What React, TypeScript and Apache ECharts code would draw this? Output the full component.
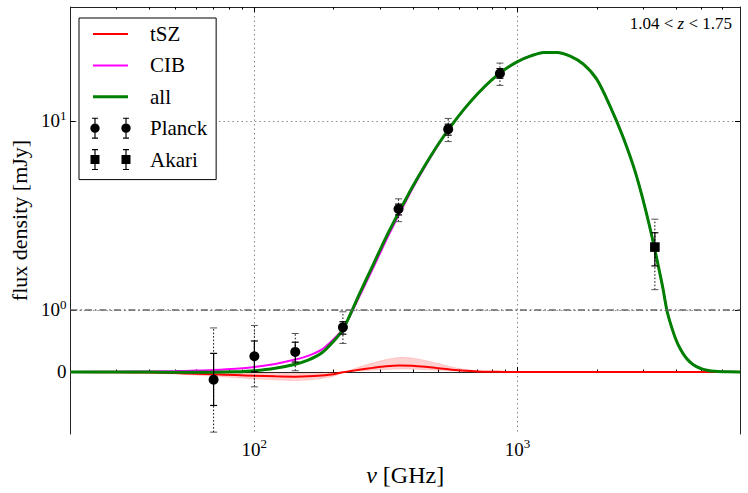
import React, { useEffect, useRef } from 'react';
import * as echarts from 'echarts';

// ---------- data (GHz, mJy) ----------
const FREQ = [20, 30, 40, 50, 60, 70, 85, 100, 120, 143, 160, 180, 200, 217, 233, 250,
  282, 316, 355, 398, 447, 501, 562, 631, 708, 794, 891,
  1000, 1122, 1259, 1413, 1585, 1778, 1995, 2239, 2512, 2818, 3162, 3548,
  3690, 3802, 3981, 4169, 4365, 4571, 4786, 5012, 5248, 5623, 6310, 7000];
const ALL = [-0.001, -0.001, -0.002, -0.004, -0.006, -0.006, 0.002, 0.02, 0.06, 0.125, 0.19, 0.305, 0.495, 0.685, 0.956, 1.205,
  1.72, 2.415, 3.31, 4.46, 5.88, 7.57, 9.5, 11.67, 13.99, 16.36, 18.62,
  20.58, 22.04, 23.0, 23.0, 22.0, 19.95, 16.67, 12.08, 8.26, 5.21, 2.83, 1.352,
  1.0, 0.796, 0.541, 0.357, 0.229, 0.143, 0.086, 0.05, 0.028, 0.011, 0.002, 0.0003];
const CIB = [0.001, 0.004, 0.008, 0.014, 0.022, 0.032, 0.052, 0.08, 0.13, 0.2, 0.26, 0.36, 0.53, 0.69, 0.94, 1.17,
  1.654, 2.323, 3.205, 4.36, 5.797, 7.51, 9.465, 11.652, 13.982, 16.357, 18.619,
  20.58, 22.04, 23.0, 23.0, 22.0, 19.95, 16.67, 12.08, 8.26, 5.21, 2.83, 1.352,
  1.0, 0.796, 0.541, 0.357, 0.229, 0.143, 0.086, 0.05, 0.028, 0.011, 0.002, 0.0003];
const TSZ = [-0.002, -0.005, -0.01, -0.018, -0.028, -0.038, -0.05, -0.06, -0.07, -0.075, -0.07, -0.055, -0.035, -0.005, 0.016, 0.035,
  0.066, 0.092, 0.105, 0.1, 0.083, 0.06, 0.035, 0.018, 0.008, 0.003, 0.001,
  0, 0, 0, 0, 0, 0, 0, 0, 0, 0, 0, 0,
  0, 0, 0, 0, 0, 0, 0, 0, 0, 0, 0, 0];
const TSZ_LO = [-0.004, -0.01, -0.02, -0.034, -0.052, -0.07, -0.092, -0.11, -0.128, -0.138, -0.13, -0.105, -0.068, -0.012, 0.006, 0.015,
  0.028, 0.04, 0.047, 0.045, 0.037, 0.027, 0.016, 0.008, 0.003, 0.001, 0,
  0, 0, 0, 0, 0, 0, 0, 0, 0, 0, 0, 0,
  0, 0, 0, 0, 0, 0, 0, 0, 0, 0, 0, 0];
const TSZ_HI = [-0.001, -0.002, -0.003, -0.005, -0.007, -0.01, -0.013, -0.016, -0.019, -0.02, -0.018, -0.014, -0.009, -0.001, 0.035, 0.08,
  0.147, 0.2, 0.235, 0.225, 0.185, 0.135, 0.08, 0.042, 0.018, 0.007, 0.002,
  0, 0, 0, 0, 0, 0, 0, 0, 0, 0, 0, 0,
  0, 0, 0, 0, 0, 0, 0, 0, 0, 0, 0, 0];

const PLANCK_FREQ = [70, 100, 143, 217, 353, 545, 857];
const PLANCK_VAL = [-0.124, 0.253, 0.323, 0.72, 3.42, 9.04, 17.8];
const PLANCK_IN_LO = [-0.54, 0.005, 0.16, 0.61, 3.18, 8.4, 16.8];
const PLANCK_IN_HI = [0.3, 0.5, 0.48, 0.81, 3.63, 9.6, 18.9];
const PLANCK_OUT_LO = [-0.97, -0.24, 0.02, 0.46, 2.93, 7.77, 15.4];
const PLANCK_OUT_HI = [0.71, 0.75, 0.62, 0.97, 3.87, 10.3, 20.2];

const AKARI_FREQ = [3324];
const AKARI_VAL = [2.15];
const AKARI_IN_LO = [1.71];
const AKARI_IN_HI = [2.56];
const AKARI_OUT_LO = [1.28];
const AKARI_OUT_HI = [3.02];

const X_MAJOR = [100, 1000];
const X_MINOR = [30, 40, 50, 60, 70, 80, 90, 200, 300, 400, 500, 600, 700, 800, 900, 2000, 3000, 4000, 5000, 6000];
const Y_TICKS = [0, 1, 10];
const X_RANGE = [20, 7000];
const Y_RANGE = [-1, 40];

// ---------- scales ----------
const LINSCALE = 0.328;
const fx = (f: number) => Math.log10(f);
const fy = (v: number) => {
  if (Math.abs(v) <= 1) return v * LINSCALE;
  return Math.sign(v) * (LINSCALE + Math.log10(Math.abs(v)));
};

const SERIF = "Liberation Serif, Times New Roman, DejaVu Serif, serif";

const richTick = {
  b: { fontSize: 19, fontFamily: SERIF, color: '#000' },
  s: { fontSize: 13, fontFamily: SERIF, color: '#000', padding: [0, 0, 11, 0] },
};

const near = (a: number, b: number) => Math.abs(a - b) < 1e-6;

function yLabel(v: number) {
  for (const t of Y_TICKS) {
    if (near(fy(t), v)) {
      if (t === 0) return '{b|0}';
      return `{b|10}{s|${Math.round(Math.log10(t))}}`;
    }
  }
  return '';
}

// ---------- legend icons ----------
const BB = 'M0 0 L0.01 0 L0 0.01 Z M54.99 22 L55 22 L55 21.99 Z ';
const rect = (x1: number, y1: number, x2: number, y2: number) => `M${x1} ${y1} L${x2} ${y1} L${x2} ${y2} L${x1} ${y2} Z `;
const lineIcon = (th: number) => 'path://' + BB + rect(3, 11 - th / 2, 38, 11 + th / 2);
const errIcon = (shape: 'circle' | 'square') => {
  let d = BB;
  for (const cx of [5, 36]) {
    d += rect(cx - 0.6, 0.5, cx + 0.6, 6.5);
    d += rect(cx - 0.6, 15.5, cx + 0.6, 21.5);
    d += rect(cx - 3, 0.5, cx + 3, 1.6);
    d += rect(cx - 3, 20.4, cx + 3, 21.5);
    if (shape === 'circle') {
      d += `M${cx - 4.7} 11 A4.7 4.7 0 1 1 ${cx + 4.7} 11 A4.7 4.7 0 1 1 ${cx - 4.7} 11 Z `;
    } else {
      d += rect(cx - 4.5, 6.5, cx + 4.5, 15.5);
    }
  }
  return 'path://' + d;
};

// ---------- series data ----------
const line = (vals: number[]) => FREQ.map((f, i) => [fx(f), fy(vals[i])]);
const bandData = FREQ.map((f, i) => [fx(f), fy(TSZ_LO[i]), fy(TSZ_HI[i])]);
const errData = (fr: number[], v: number[], il: number[], ih: number[], ol: number[], oh: number[]) =>
  fr.map((f, i) => [fx(f), fy(v[i]), fy(il[i]), fy(ih[i]), fy(ol[i]), fy(oh[i])]);

function makeErrRender(shape: 'circle' | 'square') {
  return (params: any, api: any) => {
    const x = api.value(0);
    const c = api.coord([x, api.value(1)]);
    const il = api.coord([x, api.value(2)]);
    const ih = api.coord([x, api.value(3)]);
    const ol = api.coord([x, api.value(4)]);
    const oh = api.coord([x, api.value(5)]);
    const cx = c[0];
    const cap = 3.5;
    const children: any[] = [
      { type: 'line', shape: { x1: cx, y1: ol[1], x2: cx, y2: oh[1] }, style: { stroke: '#000', lineWidth: 1, lineDash: [1.5, 2] } },
      { type: 'line', shape: { x1: cx - cap, y1: ol[1], x2: cx + cap, y2: ol[1] }, style: { stroke: '#555', lineWidth: 1 } },
      { type: 'line', shape: { x1: cx - cap, y1: oh[1], x2: cx + cap, y2: oh[1] }, style: { stroke: '#555', lineWidth: 1 } },
      { type: 'line', shape: { x1: cx, y1: il[1], x2: cx, y2: ih[1] }, style: { stroke: '#000', lineWidth: 1.2 } },
      { type: 'line', shape: { x1: cx - cap, y1: il[1], x2: cx + cap, y2: il[1] }, style: { stroke: '#000', lineWidth: 1.2 } },
      { type: 'line', shape: { x1: cx - cap, y1: ih[1], x2: cx + cap, y2: ih[1] }, style: { stroke: '#000', lineWidth: 1.2 } },
    ];
    if (shape === 'circle') {
      children.push({ type: 'circle', shape: { cx, cy: c[1], r: 5 }, style: { fill: '#000' } });
    } else {
      children.push({ type: 'rect', shape: { x: cx - 4.8, y: c[1] - 4.8, width: 9.6, height: 9.6 }, style: { fill: '#000' } });
    }
    return { type: 'group', children };
  };
}

function bandRender(params: any, api: any) {
  if (params.dataIndex !== 0) return null;
  const top = bandData.map((d) => api.coord([d[0], d[2]]));
  const bot = bandData.map((d) => api.coord([d[0], d[1]])).reverse();
  return { type: 'polygon', shape: { points: top.concat(bot), smooth: 0.2 }, style: { fill: 'rgba(255,0,0,0.18)', stroke: 'rgba(255,0,0,0.12)', lineWidth: 1 } };
}

const XMIN = fx(X_RANGE[0]);
const XMAX = fx(X_RANGE[1]);
const YMIN = fy(Y_RANGE[0]);
const YMAX = fy(Y_RANGE[1]);

const spine = { show: true, lineStyle: { color: '#222', width: 1 } };

const option: any = {
  animation: false,
  backgroundColor: '#fff',
  textStyle: { fontFamily: SERIF, color: '#000' },
  grid: { left: 69, top: 7, right: 8, bottom: 59, containLabel: false },
  xAxis: [
    {
      type: 'value', position: 'bottom', min: XMIN, max: XMAX,
      axisLine: spine,
      axisTick: { show: true, inside: true, length: 5, customValues: X_MAJOR.map(fx), lineStyle: { color: '#000' } },
      axisLabel: {
        show: true, customValues: X_MAJOR.map(fx), margin: 3,
        formatter: (v: number) => `{b|10}{s|${Math.round(v)}}`, rich: richTick,
      },
      splitLine: { show: true, lineStyle: { color: '#888', width: 1, type: [1.5, 3] } },
      name: '{i|ν} {n|[GHz]}', nameLocation: 'middle', nameGap: 20,
      nameTextStyle: {
        fontFamily: SERIF, fontSize: 24, color: '#000',
        rich: {
          i: { fontFamily: SERIF, fontSize: 24, fontStyle: 'italic', color: '#000' },
          n: { fontFamily: SERIF, fontSize: 24, color: '#000' },
        },
      },
    },
    {
      type: 'value', position: 'bottom', min: XMIN, max: XMAX,
      axisLine: { show: false },
      axisTick: { show: true, inside: true, length: 2.5, customValues: X_MINOR.map(fx), lineStyle: { color: '#000' } },
      axisLabel: { show: false }, splitLine: { show: false },
    },
    {
      type: 'value', position: 'top', min: XMIN, max: XMAX,
      axisLine: spine,
      axisTick: { show: true, inside: true, length: 5, customValues: X_MAJOR.map(fx), lineStyle: { color: '#000' } },
      axisLabel: { show: false }, splitLine: { show: false },
    },
    {
      type: 'value', position: 'top', min: XMIN, max: XMAX,
      axisLine: { show: false },
      axisTick: { show: true, inside: true, length: 2.5, customValues: X_MINOR.map(fx), lineStyle: { color: '#000' } },
      axisLabel: { show: false }, splitLine: { show: false },
    },
  ],
  yAxis: [
    {
      type: 'value', position: 'left', min: YMIN, max: YMAX,
      axisLine: spine,
      axisTick: { show: true, inside: true, length: 5, customValues: Y_TICKS.map(fy), lineStyle: { color: '#000' } },
      axisLabel: { show: true, customValues: Y_TICKS.map(fy), margin: 4, formatter: yLabel, rich: richTick },
      splitLine: { show: true, lineStyle: { color: '#888', width: 1, type: [1.5, 3] } },
      name: '{t|flux density [mJy]}', nameLocation: 'middle', nameGap: 37,
      nameTextStyle: {
        fontFamily: SERIF, fontSize: 22, color: '#000',
        rich: { t: { fontFamily: SERIF, fontSize: 22, color: '#000' } },
      },
    },
    {
      type: 'value', position: 'right', min: YMIN, max: YMAX,
      axisLine: spine,
      axisTick: { show: true, inside: true, length: 5, customValues: Y_TICKS.map(fy), lineStyle: { color: '#000' } },
      axisLabel: { show: false }, splitLine: { show: false },
    },
  ],
  legend: {
    orient: 'vertical', left: 79, top: 18,
    itemWidth: 55, itemHeight: 22, itemGap: 9.4,
    padding: [5, 9, 9, 11],
    borderColor: '#000', borderWidth: 1, backgroundColor: '#fff', borderRadius: 0,
    selectedMode: false,
    formatter: (name: string) => `{t|${name}}`,
    textStyle: {
      fontFamily: SERIF, fontSize: 21, color: '#000',
      rich: { t: { fontFamily: SERIF, fontSize: 21, color: '#000' } },
    },
    itemStyle: { borderWidth: 0 },
    data: [
      { name: 'tSZ', icon: lineIcon(2), itemStyle: { color: '#ff0000', borderWidth: 0 } },
      { name: 'CIB', icon: lineIcon(2), itemStyle: { color: '#ff00ff', borderWidth: 0 } },
      { name: 'all', icon: lineIcon(3), itemStyle: { color: '#008000', borderWidth: 0 } },
      { name: 'Planck', icon: errIcon('circle'), itemStyle: { color: '#000', borderWidth: 0 } },
      { name: 'Akari', icon: errIcon('square'), itemStyle: { color: '#000', borderWidth: 0 } },
    ],
  },
  graphic: [
    {
      type: 'text', right: 16, top: 15,
      style: {
        text: '{a|1.04 < }{z|z}{a| < 1.75}',
        rich: {
          a: { fontFamily: SERIF, fontSize: 17, fill: '#000' },
          z: { fontFamily: SERIF, fontSize: 17, fontStyle: 'italic', fill: '#000' },
        },
      },
      z: 100,
    },
  ],
  series: [
    {
      name: 'tSZ band', type: 'custom', renderItem: bandRender, data: bandData,
      encode: { x: 0, y: [1, 2] }, silent: true, z: 1,
    },
    {
      name: 'tSZ', type: 'line', data: line(TSZ), symbol: 'none', smooth: 0.3,
      lineStyle: { color: '#ff0000', width: 2 }, itemStyle: { color: '#ff0000' }, z: 2,
    },
    {
      name: 'CIB', type: 'line', data: line(CIB), symbol: 'none', smooth: 0.3,
      lineStyle: { color: '#ff00ff', width: 2 }, itemStyle: { color: '#ff00ff' }, z: 3,
      markLine: {
        silent: true, symbol: ['none', 'none'], label: { show: false },
        lineStyle: { color: '#666', width: 1.6, type: [7, 3, 1.5, 3] },
        data: [{ yAxis: fy(1) }],
      },
    },
    {
      name: 'all', type: 'line', data: line(ALL), symbol: 'none', smooth: 0.3,
      lineStyle: { color: '#008000', width: 3 }, itemStyle: { color: '#008000' }, z: 4,
    },
    {
      name: 'Planck', type: 'custom', renderItem: makeErrRender('circle'),
      data: errData(PLANCK_FREQ, PLANCK_VAL, PLANCK_IN_LO, PLANCK_IN_HI, PLANCK_OUT_LO, PLANCK_OUT_HI),
      encode: { x: 0, y: 1 }, itemStyle: { color: '#000' }, z: 5,
    },
    {
      name: 'Akari', type: 'custom', renderItem: makeErrRender('square'),
      data: errData(AKARI_FREQ, AKARI_VAL, AKARI_IN_LO, AKARI_IN_HI, AKARI_OUT_LO, AKARI_OUT_HI),
      encode: { x: 0, y: 1 }, itemStyle: { color: '#000' }, z: 5,
    },
  ],
};

export default function App() {
  const ref = useRef<HTMLDivElement>(null);
  useEffect(() => {
    const chart = echarts.init(ref.current as HTMLDivElement, null, { renderer: 'svg' });
    chart.setOption(option);
    return () => chart.dispose();
  }, []);
  return (
    <div
      ref={ref}
      style={{ position: 'fixed', left: 0, top: 0, width: 748, height: 493, background: '#fff' }}
    />
  );
}
